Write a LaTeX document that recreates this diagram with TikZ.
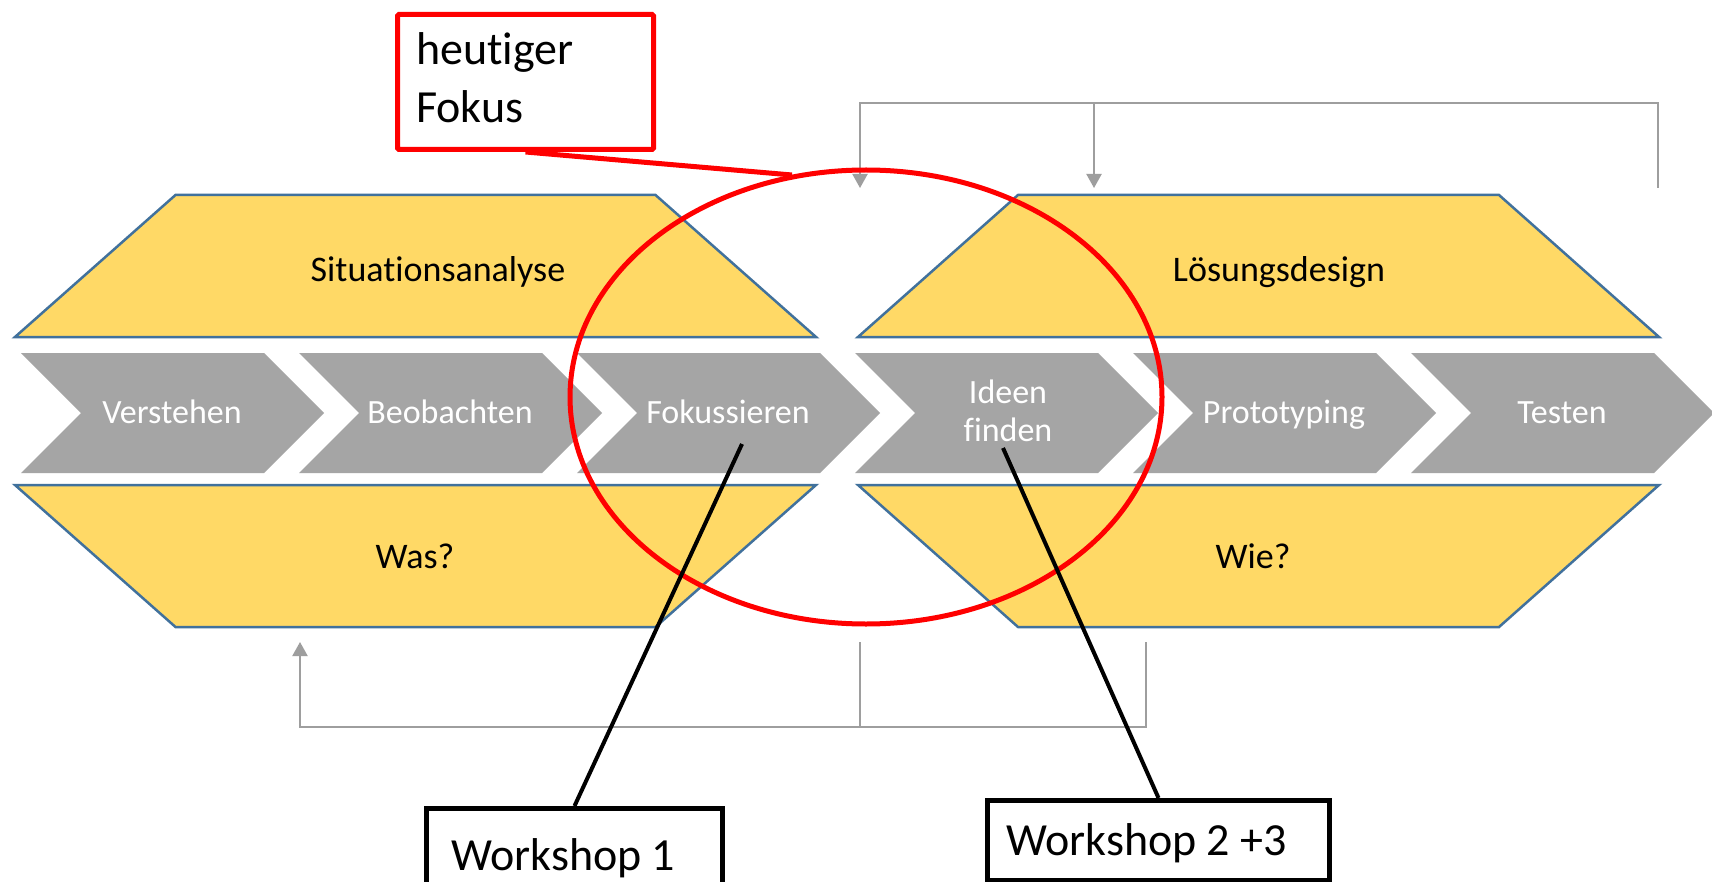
\documentclass[tikz,border=0pt]{standalone}
\usepackage{fontspec}
\setmainfont{Carlito}[Ligatures={NoCommon}]
\usetikzlibrary{arrows.meta}
\definecolor{trapfill}{HTML}{FFD966}
\definecolor{trapline}{HTML}{41719C}
\definecolor{chevgray}{HTML}{A5A5A5}
\definecolor{linegray}{HTML}{9E9E9E}
\definecolor{focusred}{HTML}{FF0000}
\tikzset{
  trap/.style={fill=trapfill, draw=trapline, line width=2.5pt, line join=miter},
  chev/.style={fill=chevgray},
  traptext/.style={font=\fontsize{36}{43}\selectfont, text=black, anchor=base, inner sep=0pt},
  chevtext/.style={font=\fontsize{34}{38}\selectfont, text=white, anchor=base, inner sep=0pt},
  grayline/.style={draw=linegray, line width=2pt},
  grayarrow/.style={grayline, -{Triangle[length=14pt,width=15pt]}},
  callouttext/.style={font=\fontsize{46}{57}\selectfont, text=black, anchor=base west, inner sep=0pt},
  redbox/.style={draw=focusred, line width=5pt, fill=white, inner sep=0pt, rounded corners=1.5pt},
  blackbox/.style={draw=black, line width=5pt, fill=white, inner sep=0pt},
  redlink/.style={draw=focusred, line width=5pt},
  blacklink/.style={draw=black, line width=4pt},
}
\begin{document}
\begin{tikzpicture}[x=1pt,y=-1pt]
\clip (0,0) rectangle (1712,882);
\fill[white] (0,0) rectangle (1712,882);

% trapezoids
\draw[trap] (175.5,195) -- (655.5,195) -- (816,337) -- (15,337) -- cycle;
\draw[trap] (1018,195) -- (1499,195) -- (1659,337) -- (858,337) -- cycle;
\draw[trap] (15,485) -- (816,485) -- (655.5,627) -- (175.5,627) -- cycle;
\draw[trap] (858,485) -- (1659,485) -- (1499,627) -- (1018,627) -- cycle;
\node[traptext] (sit) at (438,282) {Situationsanalyse};
\node[traptext] (loe) at (1279,282) {Lösungsdesign};
\node[traptext] (was) at (415,568) {Was?};
\node[traptext] (wie) at (1253,568) {Wie?};

% chevrons
\foreach \i in {0,...,5}{
  \pgfmathsetmacro{\L}{21+278*\i}
  \fill[chev] (\L,353) -- ({\L+243},353) -- ({\L+303},413) -- ({\L+243},473) -- (\L,473) -- ({\L+60},413) -- cycle;
}
\node[chevtext] (c1) at (172,423) {Verstehen};
\node[chevtext] (c2) at (450,423) {Beobachten};
\node[chevtext] (c3) at (728,423) {Fokussieren};
\node[chevtext] (c4a) at (1008,403) {Ideen};
\node[chevtext] (c4b) at (1008,441) {finden};
\node[chevtext] (c5) at (1284,423) {Prototyping};
\node[chevtext] (c6) at (1562,423) {Testen};

% gray feedback lines
\coordinate (tR) at (1658,188);
\coordinate (tRc) at (1658,103);
\coordinate (tLc) at (860,103);
\coordinate (tL) at (860,188);
\coordinate (tM0) at (1094,103);
\coordinate (tM) at (1094,188);
\draw[grayarrow] (tR) -- (tRc) -- (tLc) -- (tL);
\draw[grayarrow] (tM0) -- (tM);
\coordinate (bR) at (1146,642);
\coordinate (bRc) at (1146,727);
\coordinate (bLc) at (300,727);
\coordinate (bL) at (300,642);
\coordinate (bM) at (860,642);
\coordinate (bMc) at (860,727);
\draw[grayarrow] (bR) -- (bRc) -- (bLc) -- (bL);
\draw[grayline] (bM) -- (bMc);

% red focus ellipse
\draw[focusred, line width=5pt] (866,397) ellipse [x radius=296, y radius=227];

% red callout
\node[redbox, anchor=north west, minimum width=256pt, minimum height=135pt] (rbox) at (395,12) {};
\node[callouttext] (ht) at (416,65) {heutiger};
\node[callouttext] (fk) at (416,123) {Fokus};
\coordinate (rtip) at (792,175);
\draw[redlink] (rbox.south) -- (rtip);

% workshop callouts
\node[blackbox, anchor=north west, minimum width=296pt, minimum height=90pt] (ws1) at (424,806) {};
\node[callouttext] (ws1t) at (451,870) {Workshop 1};
\node[blackbox, anchor=north west, minimum width=342pt, minimum height=80pt] (ws2) at (985,798) {};
\node[callouttext] (ws2t) at (1006,855) {Workshop 2 +3};
\coordinate (p3) at (742,444);
\coordinate (p4) at (1003,448);
\draw[blacklink] (p3) -- (ws1.north);
\draw[blacklink] (p4) -- (ws2.north);
\end{tikzpicture}
\end{document}
